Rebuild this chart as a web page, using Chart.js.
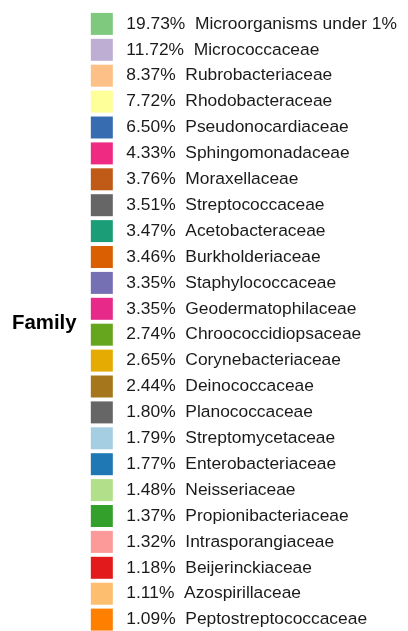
<!DOCTYPE html>
<html>
<head>
<meta charset="utf-8">
<script src="https://cdn.jsdelivr.net/npm/chart.js@4/dist/chart.umd.min.js"></script>
<style>
  html, body { margin: 0; padding: 0; background: #fff; overflow: hidden; }
  #wrap { position: relative; width: 408px; height: 640px; }
</style>
</head>
<body>
<div id="wrap"><canvas id="familyChart"></canvas></div>
<script>
// Legend data (family share of reads)
const families = [
  'Microorganisms under 1%', 'Micrococcaceae', 'Rubrobacteriaceae', 'Rhodobacteraceae',
  'Pseudonocardiaceae', 'Sphingomonadaceae', 'Moraxellaceae', 'Streptococcaceae',
  'Acetobacteraceae', 'Burkholderiaceae', 'Staphylococcaceae', 'Geodermatophilaceae',
  'Chroococcidiopsaceae', 'Corynebacteriaceae', 'Deinococcaceae', 'Planococcaceae',
  'Streptomycetaceae', 'Enterobacteriaceae', 'Neisseriaceae', 'Propionibacteriaceae',
  'Intrasporangiaceae', 'Beijerinckiaceae', 'Azospirillaceae', 'Peptostreptococcaceae'
];
const shares = [
  19.73, 11.72, 8.37, 7.72, 6.50, 4.33, 3.76, 3.51, 3.47, 3.46, 3.35, 3.35,
  2.74, 2.65, 2.44, 1.80, 1.79, 1.77, 1.48, 1.37, 1.32, 1.18, 1.11, 1.09
];
const colors = [
  '#7FC97F', '#BEAED4', '#FDC086', '#FFFF99', '#386CB0', '#EF2A82', '#BF5B17', '#666666',
  '#1B9E77', '#D95F02', '#7570B3', '#E7298A', '#66A61E', '#E6AB02', '#A6761D', '#666666',
  '#A6CEE3', '#1F78B4', '#B2DF8A', '#33A02C', '#FB9A99', '#E31A1C', '#FDBF6F', '#FF7F00'
];
const legendTitle = 'Family';

const labels = families.map((f, i) => ' ' + shares[i].toFixed(2) + '%  ' + f);

// draws the legend title to the left, centred on the legend keys
const sideTitle = {
  id: 'sideTitle',
  afterDraw(chart) {
    const boxes = chart.legend.legendHitBoxes;
    if (!boxes || !boxes.length) return;
    const first = boxes[0];
    const last = boxes[boxes.length - 1];
    const yMid = (first.top + last.top + last.height) / 2;
    const ctx = chart.ctx;
    ctx.save();
    ctx.font = 'bold 20.4px "Liberation Sans", Arial, sans-serif';
    ctx.fillStyle = '#000';
    ctx.textAlign = 'left';
    ctx.textBaseline = 'middle';
    ctx.fillText(legendTitle, chart.chartArea.left + 12, yMid + 1.5);
    ctx.restore();
  }
};

new Chart(document.getElementById('familyChart'), {
  type: 'doughnut',
  data: {
    labels: labels,
    datasets: [{
      data: shares,
      backgroundColor: colors,
      borderWidth: 0
    }]
  },
  options: {
    responsive: true,
    maintainAspectRatio: false,
    animation: false,
    events: [],
    radius: 0,
    layout: { padding: { top: 9, right: 1, bottom: 0, left: 0 } },
    plugins: {
      tooltip: { enabled: false },
      legend: {
        position: 'right',
        align: 'start',
        maxWidth: 400,
        labels: {
          boxWidth: 22,
          boxHeight: 22,
          padding: 3.9,
          color: '#1a1a1a',
          font: { family: '"Liberation Sans", Arial, sans-serif', size: 17.4 }
        }
      }
    }
  },
  plugins: [sideTitle]
});
</script>
</body>
</html>
